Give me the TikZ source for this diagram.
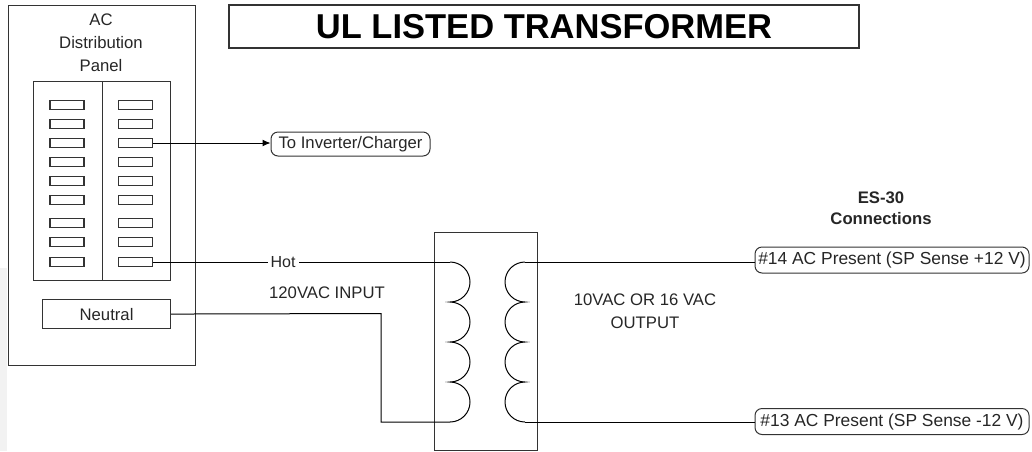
\documentclass[tikz,border=0pt]{standalone}
\usepackage{fontspec}
\setmainfont{Liberation Sans}
\usetikzlibrary{arrows.meta}
\begin{document}
\begin{tikzpicture}[x=1pt,y=-1pt,
  frame/.style={draw=black!80, line width=1.1pt, inner sep=0pt, anchor=north west},
  brk/.style={draw=black!80, line width=1.1pt, minimum width=34pt, minimum height=9.5pt, inner sep=0pt},
  wire/.style={draw=black, line width=1pt},
  lbl/.style={font=\fontsize{16.7}{23}\selectfont, text=black!85, align=center, inner sep=1pt},
  term/.style={draw=black!80, line width=1pt, rounded corners=7pt, font=\fontsize{16.7}{23}\selectfont, text=black!85, inner sep=1pt, minimum height=26pt}
]
\useasboundingbox (0,0) rectangle (1032,451);
\fill[black!5] (0,268) rectangle (7,451);

% AC distribution panel
\node[frame, minimum width=187pt, minimum height=360pt] (panel) at (8,5) {};
\node[lbl] (ptitle) at (101,43) {AC\\Distribution\\Panel};
\node[frame, minimum width=137pt, minimum height=199pt] (bframe) at (33,81) {};
\draw[draw=black!80, line width=1.1pt] (bframe.north) -- (bframe.south);
\foreach \yy [count=\i] in {105,124,143,162,181,200,223,242,262} {
  \node[brk] (L\i) at (67,\yy) {};
  \node[brk] (R\i) at (135.5,\yy) {};
}
\node[frame, minimum width=128pt, minimum height=29pt] (neutral) at (42,299) {};
\node[lbl] (ntext) at (neutral.center) {Neutral};

% title
\node[draw=black!80, line width=1.1pt, minimum width=630pt, minimum height=43pt, inner sep=0pt,
      font=\fontsize{34.5}{40}\selectfont\bfseries] (title) at (544,26.5) {UL LISTED TRANSFORMER};

% inverter/charger
\node[term, minimum width=159pt, minimum height=24pt] (inv) at (350.5,144) {To Inverter/Charger};
\draw[wire, -{Latex[length=8pt,width=7pt]}] (R3.east) -- (R3.east -| inv.west);

% transformer
\node[frame, minimum width=103pt, minimum height=218pt] (xfmr) at (434,232) {};
\coordinate (p1) at (450,262);
\coordinate (p2) at (450,422);
\coordinate (s1) at (525,262);
\coordinate (s2) at (525,422);
\draw[wire] (p1) arc[start angle=90, end angle=-90, radius=20pt]
               arc[start angle=90, end angle=-90, radius=20pt]
               arc[start angle=90, end angle=-90, radius=20pt]
               arc[start angle=90, end angle=-90, radius=20pt];
\draw[wire] (s1) arc[start angle=90, end angle=270, radius=20pt]
               arc[start angle=90, end angle=270, radius=20pt]
               arc[start angle=90, end angle=270, radius=20pt]
               arc[start angle=90, end angle=270, radius=20pt];

% input wires
\draw[wire] (R9.east) -- node[pos=0.438, fill=white, inner xsep=3pt, inner ysep=1pt,
   font=\fontsize{16}{20}\selectfont, text=black!85] (hot) {Hot} (p1);
\draw[wire] (neutral.east) -- (381,313.5) |- (p2);
\node[lbl] (inlbl) at (327,293) {120VAC INPUT};
\node[lbl] (outlbl) at (645,311.5) {10VAC OR 16 VAC\\OUTPUT};

% ES-30 connections
\node[lbl, font=\fontsize{16.7}{21}\selectfont\bfseries] (es) at (881,208.5) {ES-30\\Connections};
\node[term, minimum width=274pt, font=\fontsize{17.4}{23}\selectfont] (t14) at (892,260) {\#14 AC Present (SP Sense +12 V)};
\node[term, minimum width=274pt, font=\fontsize{17.4}{23}\selectfont] (t13) at (892,421.5) {\#13 AC Present (SP Sense -12 V)};
\draw[wire] (s1) -- (s1 -| t14.west);
\draw[wire] (s2) -- (s2 -| t13.west);
\end{tikzpicture}
\end{document}
